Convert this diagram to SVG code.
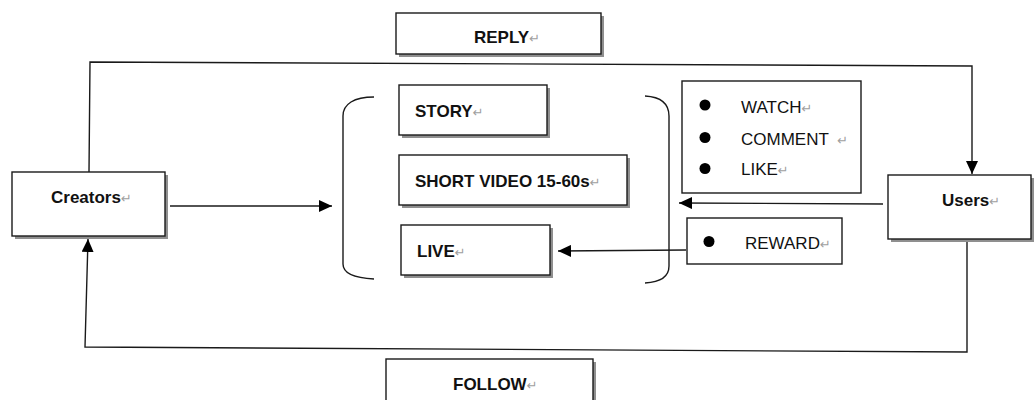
<svg xmlns="http://www.w3.org/2000/svg" width="1034" height="400" viewBox="0 0 1034 400">
<style>
.box{fill:#fff;stroke:#1a1a1a;stroke-width:1.4}
.sh{fill:#8f8f8f}
.b{font-family:"Liberation Sans",Arial,sans-serif;font-weight:bold;font-size:17px;fill:#111}
.r{font-family:"Liberation Sans",Arial,sans-serif;font-size:17px;fill:#111}
.pm{font-family:"DejaVu Sans",sans-serif;font-weight:normal;font-size:13px;fill:#a0a0a0}
.ln{fill:none;stroke:#1a1a1a;stroke-width:1.4}
.dot{fill:#000}
</style>
<defs>
<marker id="ah" markerUnits="userSpaceOnUse" markerWidth="14" markerHeight="12" refX="13" refY="6" orient="auto">
<path d="M0,0 L13,6 L0,12 Z" fill="#000"/>
</marker>
</defs>

<g id="connectors">
<polyline class="ln" points="89,172 90,62 972,66 972,174" marker-end="url(#ah)"/>
<polyline class="ln" points="967,242 967,352 85,347 88,239" marker-end="url(#ah)"/>
<line class="ln" x1="170" y1="206" x2="332" y2="206" marker-end="url(#ah)"/>
<line class="ln" x1="883" y1="204" x2="679" y2="203" marker-end="url(#ah)"/>
<line class="ln" x1="686" y1="250" x2="558" y2="251" marker-end="url(#ah)"/>
</g>

<g id="bracket-left">
<path class="ln" d="M374,97 C354,97 343,104 343,116 L343,264 C343,273 354,278 374,279"/>
</g>
<g id="bracket-right">
<path class="ln" d="M645,96 C662,97 669,104 669,116 L669,266 C669,276 662,282 645,283"/>
</g>

<g id="reply">
<rect class="sh" x="399" y="16" width="205" height="41"/>
<rect class="box" x="396" y="13" width="205" height="41"/>
<text class="b" x="474" y="43">REPLY<tspan class="pm">↵</tspan></text>
</g>

<g id="follow">
<rect class="sh" x="389" y="362" width="207" height="45"/>
<rect class="box" x="386" y="359" width="207" height="45"/>
<text class="b" x="453" y="390">FOLLOW<tspan class="pm">↵</tspan></text>
</g>

<g id="creators">
<rect class="sh" x="15" y="175" width="153" height="64"/>
<rect class="box" x="12" y="172" width="153" height="64"/>
<text class="b" x="51" y="203">Creators<tspan class="pm">↵</tspan></text>
</g>

<g id="users">
<rect class="sh" x="891" y="178" width="143" height="64"/>
<rect class="box" x="888" y="175" width="143" height="64"/>
<text class="b" x="942" y="206">Users<tspan class="pm">↵</tspan></text>
</g>

<g id="story">
<rect class="sh" x="402" y="88" width="148" height="50"/>
<rect class="box" x="399" y="85" width="148" height="50"/>
<text class="b" x="415" y="117">STORY<tspan class="pm">↵</tspan></text>
</g>

<g id="short-video">
<rect class="sh" x="402" y="158" width="228" height="50"/>
<rect class="box" x="399" y="155" width="228" height="50"/>
<text class="b" x="415" y="187">SHORT VIDEO 15-60s<tspan class="pm">↵</tspan></text>
</g>

<g id="live">
<rect class="sh" x="404" y="228" width="149" height="50"/>
<rect class="box" x="401" y="225" width="149" height="50"/>
<text class="b" x="417" y="257">LIVE<tspan class="pm">↵</tspan></text>
</g>

<g id="actions">
<rect class="box" x="682" y="81" width="179" height="112"/>
<circle class="dot" cx="705" cy="105" r="5.5"/>
<circle class="dot" cx="705" cy="137.5" r="5.5"/>
<circle class="dot" cx="705" cy="168.5" r="5.5"/>
<text class="r" x="741" y="113">WATCH<tspan class="pm">↵</tspan></text>
<text class="r" x="741" y="145">COMMENT <tspan class="pm" dx="4">↵</tspan></text>
<text class="r" x="741" y="175">LIKE<tspan class="pm">↵</tspan></text>
</g>

<g id="reward">
<rect class="box" x="687" y="218" width="155" height="46"/>
<circle class="dot" cx="709" cy="241.5" r="5.5"/>
<text class="r" x="745" y="249">REWARD<tspan class="pm">↵</tspan></text>
</g>
</svg>
